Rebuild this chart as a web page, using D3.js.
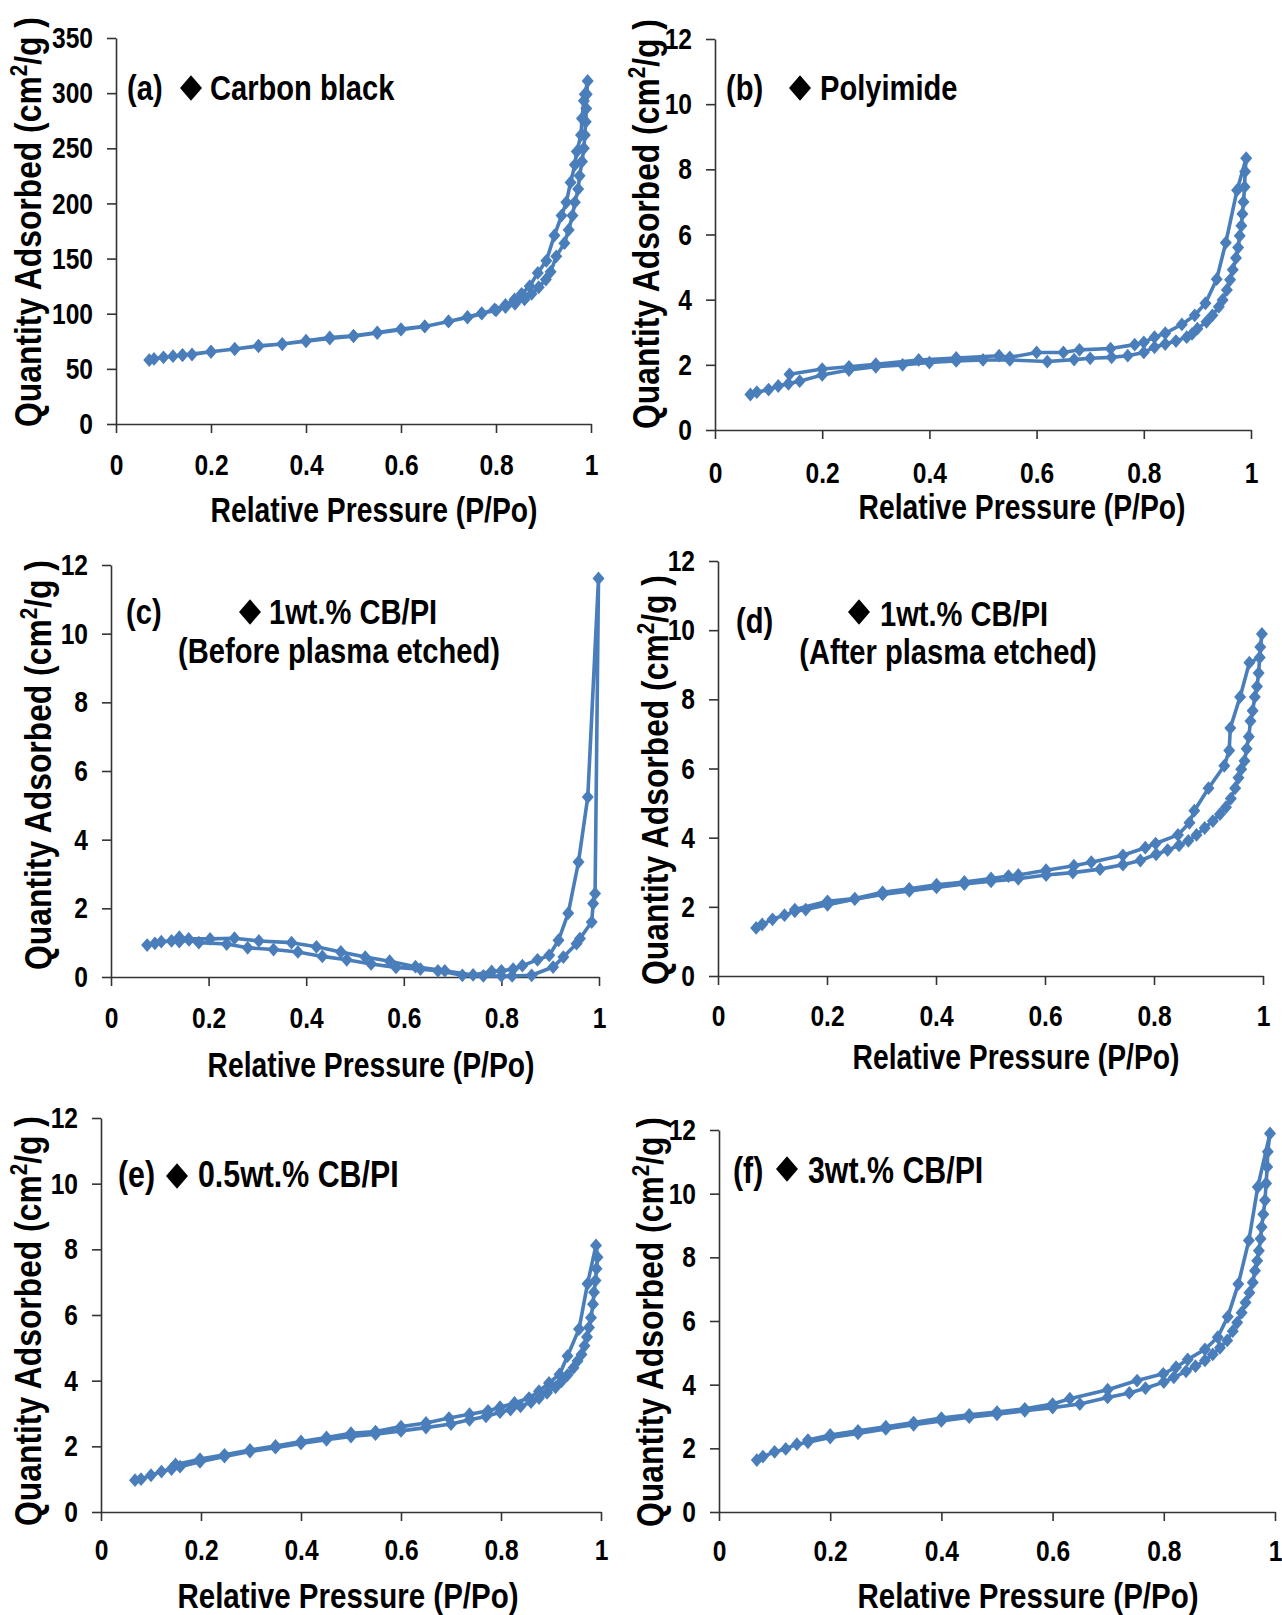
<!DOCTYPE html>
<html>
<head>
<meta charset="utf-8">
<script src="https://cdn.jsdelivr.net/npm/d3@7"></script>
<style>
body{margin:0;background:#fff}
text{font-family:"Liberation Sans",Arial,sans-serif;font-weight:bold;fill:#000}
</style>
</head>
<body>
<div id="chart"></div>
<script>
// isotherm data: [P/Po, quantity adsorbed]
var carbonAds=[[0.07,58],[0.08,59],[0.10,60.5],[0.12,61.5],[0.14,62.5],[0.16,63],[0.20,65.5],[0.25,68],[0.30,71],[0.35,72.5],[0.40,75.5],[0.45,78.5],[0.50,80],[0.55,83],[0.60,86],[0.65,88.5],[0.70,93],[0.74,97],[0.77,100.5],[0.80,103],[0.82,106],[0.84,109],[0.86,113],[0.875,118],[0.89,124],[0.905,131],[0.915,138],[0.927,152],[0.944,164],[0.953,176],[0.961,189],[0.966,201],[0.973,213],[0.976,225],[0.981,238],[0.985,250],[0.987,262],[0.989,274],[0.99,286],[0.991,299],[0.993,311]]
var carbonDes=[[0.987,299],[0.985,293],[0.981,277],[0.979,262],[0.97,247],[0.966,235],[0.957,219],[0.948,201],[0.938,189],[0.923,171],[0.906,148],[0.888,137],[0.871,125],[0.854,118],[0.839,113],[0.82,108],[0.797,104],[0.77,100],[0.74,96.5],[0.70,93],[0.65,88.5],[0.60,85.5],[0.55,82.5],[0.50,79.5],[0.45,77.5],[0.40,75],[0.35,72.5],[0.30,70.5],[0.25,68],[0.20,65.5],[0.14,62.5]]

var polyAds=[[0.066,1.09],[0.078,1.16],[0.10,1.24],[0.118,1.35],[0.137,1.42],[0.158,1.50],[0.20,1.69],[0.25,1.84],[0.30,1.94],[0.35,2.0],[0.40,2.07],[0.45,2.12],[0.50,2.15],[0.55,2.15],[0.62,2.10],[0.67,2.16],[0.70,2.2],[0.74,2.23],[0.77,2.28],[0.80,2.38],[0.82,2.54],[0.84,2.64],[0.86,2.73],[0.88,2.85],[0.89,2.95],[0.90,3.11],[0.917,3.32],[0.928,3.52],[0.94,3.78],[0.947,3.99],[0.955,4.3],[0.961,4.61],[0.966,4.92],[0.972,5.28],[0.976,5.6],[0.979,5.96],[0.982,6.27],[0.984,6.63],[0.986,7.0],[0.988,7.46],[0.989,7.93],[0.991,8.34]]
var polyDes=[[0.974,7.36],[0.953,5.75],[0.936,4.63],[0.915,3.89],[0.895,3.52],[0.871,3.24],[0.84,2.97],[0.82,2.85],[0.80,2.69],[0.783,2.62],[0.738,2.5],[0.68,2.46],[0.65,2.38],[0.60,2.38],[0.55,2.23],[0.53,2.28],[0.45,2.21],[0.38,2.15],[0.30,2.02],[0.25,1.94],[0.20,1.87],[0.139,1.71]]

var beforeAds=[[0.074,0.93],[0.09,0.98],[0.103,1.03],[0.124,1.05],[0.14,1.03],[0.16,1.08],[0.18,1.0],[0.237,0.96],[0.28,0.85],[0.333,0.8],[0.383,0.73],[0.433,0.6],[0.483,0.5],[0.533,0.38],[0.584,0.28],[0.634,0.23],[0.67,0.18],[0.72,0.05],[0.763,0.03],[0.80,0.03],[0.822,0.03],[0.862,0.05],[0.906,0.29],[0.927,0.58],[0.954,0.97],[0.961,1.12],[0.985,1.6],[0.988,2.14],[0.992,2.43],[0.999,11.61]]
var beforeDes=[[0.977,5.24],[0.958,3.35],[0.937,1.86],[0.917,1.07],[0.898,0.63],[0.874,0.5],[0.843,0.33],[0.824,0.23],[0.80,0.18],[0.78,0.16],[0.742,0.06],[0.684,0.18],[0.624,0.30],[0.571,0.46],[0.521,0.58],[0.471,0.73],[0.421,0.88],[0.37,1.0],[0.303,1.05],[0.253,1.13],[0.203,1.11],[0.159,1.11],[0.14,1.16]]

var afterAds=[[0.07,1.39],[0.081,1.49],[0.10,1.64],[0.122,1.76],[0.141,1.87],[0.161,1.92],[0.201,2.06],[0.251,2.22],[0.302,2.36],[0.351,2.46],[0.401,2.56],[0.452,2.66],[0.501,2.74],[0.551,2.81],[0.602,2.92],[0.651,2.99],[0.701,3.09],[0.743,3.22],[0.775,3.34],[0.804,3.52],[0.825,3.64],[0.846,3.78],[0.863,3.91],[0.878,4.08],[0.893,4.28],[0.908,4.48],[0.921,4.68],[0.932,4.88],[0.941,5.13],[0.949,5.43],[0.955,5.73],[0.96,5.98],[0.966,6.22],[0.97,6.57],[0.974,6.92],[0.977,7.37],[0.981,7.67],[0.985,8.07],[0.989,8.37],[0.992,8.76],[0.995,9.51],[0.998,9.89]]
var afterDes=[[0.994,9.21],[0.975,9.06],[0.958,8.07],[0.94,7.17],[0.938,6.52],[0.929,6.08],[0.90,5.43],[0.874,4.78],[0.865,4.43],[0.844,4.08],[0.803,3.83],[0.784,3.71],[0.743,3.49],[0.685,3.29],[0.653,3.19],[0.602,3.06],[0.551,2.92],[0.533,2.89],[0.501,2.82],[0.452,2.72],[0.401,2.64],[0.351,2.52],[0.302,2.42],[0.251,2.24],[0.201,2.16],[0.141,1.92]]

var halfAds=[[0.068,0.97],[0.08,1.0],[0.10,1.12],[0.121,1.23],[0.141,1.31],[0.158,1.38],[0.198,1.53],[0.247,1.69],[0.298,1.84],[0.349,1.96],[0.40,2.09],[0.451,2.2],[0.50,2.3],[0.549,2.37],[0.60,2.47],[0.65,2.57],[0.70,2.68],[0.737,2.81],[0.77,2.91],[0.798,3.04],[0.819,3.12],[0.839,3.22],[0.86,3.35],[0.876,3.47],[0.892,3.63],[0.909,3.8],[0.921,3.98],[0.933,4.17],[0.945,4.39],[0.953,4.6],[0.961,4.8],[0.967,5.06],[0.972,5.33],[0.976,5.62],[0.98,5.92],[0.984,6.33],[0.986,6.69],[0.989,7.05],[0.991,7.41],[0.993,7.76],[0.99,8.12]]
var halfDes=[[0.973,6.95],[0.956,5.57],[0.933,4.75],[0.917,4.19],[0.896,3.93],[0.876,3.68],[0.856,3.47],[0.827,3.32],[0.798,3.19],[0.774,3.08],[0.737,2.98],[0.696,2.86],[0.65,2.71],[0.60,2.6],[0.549,2.45],[0.50,2.4],[0.451,2.27],[0.40,2.15],[0.349,2.01],[0.298,1.89],[0.247,1.74],[0.198,1.61],[0.149,1.45]]

var threeAds=[[0.068,1.63],[0.079,1.74],[0.10,1.89],[0.12,1.98],[0.14,2.13],[0.16,2.19],[0.20,2.34],[0.25,2.47],[0.30,2.61],[0.35,2.74],[0.40,2.86],[0.45,2.98],[0.50,3.07],[0.55,3.18],[0.60,3.28],[0.649,3.39],[0.699,3.6],[0.738,3.74],[0.767,3.89],[0.80,4.08],[0.818,4.23],[0.84,4.42],[0.857,4.58],[0.874,4.76],[0.888,4.95],[0.901,5.16],[0.914,5.39],[0.924,5.68],[0.932,5.95],[0.94,6.26],[0.947,6.58],[0.954,6.89],[0.96,7.21],[0.964,7.58],[0.968,7.89],[0.971,8.21],[0.974,8.58],[0.976,8.95],[0.979,9.35],[0.982,9.79],[0.984,10.32],[0.986,10.84],[0.987,11.32],[0.991,11.89]]
var threeDes=[[0.969,10.21],[0.953,8.53],[0.934,7.16],[0.915,6.13],[0.897,5.49],[0.874,5.11],[0.843,4.79],[0.822,4.55],[0.799,4.34],[0.752,4.13],[0.699,3.84],[0.631,3.56],[0.60,3.39],[0.55,3.24],[0.50,3.14],[0.45,3.05],[0.40,2.95],[0.35,2.81],[0.30,2.68],[0.25,2.55],[0.20,2.42],[0.16,2.26]]

var xTicks=[0,0.2,0.4,0.6,0.8,1]
var xTickLabels=["0","0.2","0.4","0.6","0.8","1"]
var yTicksCarbon=[0,50,100,150,200,250,300,350]
var yTicks12=[0,2,4,6,8,10,12]
var panelTags=["(a)","(b)","(c)","(d)","(e)","(f)"]
var sampleNames=["Carbon black","Polyimide","1wt.% CB/PI","1wt.% CB/PI","0.5wt.% CB/PI","3wt.% CB/PI"]
var sampleNotes=["","","(Before plasma etched)","(After plasma etched)","",""]

// where each panel sits on the page
var layout=[
    {ads:carbonAds,des:carbonDes,yTicks:yTicksCarbon,left:116,right:591,bottom:424,top:38,tag:[127,100],dia:[191,88],name:[210,100],note:null,fs:35.5,yt:[41,222],xt:[374,522],xfs:34.5,pad:21},
    {ads:polyAds,des:polyDes,yTicks:yTicks12,left:715,right:1251,bottom:430,top:39,tag:[726,100],dia:[800,88],name:[820,100],note:null,fs:35.5,yt:[659,224],xt:[1022,519],xfs:34.5,pad:23},
    {ads:beforeAds,des:beforeDes,yTicks:yTicks12,left:111,right:599,bottom:977,top:565,tag:[126,624],dia:[250,612],name:[269,624],note:[339,663],fs:35.5,yt:[51,765],xt:[371,1077],xfs:34.5,pad:21},
    {ads:afterAds,des:afterDes,yTicks:yTicks12,left:718,right:1263,bottom:976,top:561,tag:[736,633],dia:[859,612],name:[880,626],note:[948,664],fs:35.5,yt:[668,780],xt:[1016,1069],xfs:34.5,pad:20},
    {ads:halfAds,des:halfDes,yTicks:yTicks12,left:101,right:601,bottom:1512,top:1118,tag:[118,1187],dia:[177,1176],name:[198,1187],note:null,fs:37,yt:[41,1321],xt:[348,1608],xfs:36,pad:18},
    {ads:threeAds,des:threeDes,yTicks:yTicks12,left:719,right:1275,bottom:1512,top:1130,tag:[733,1183],dia:[787,1169],name:[808,1183],note:null,fs:37,yt:[663,1322],xt:[1028,1608],xfs:36,pad:19}
]

var svgWidth=1282
var svgHeight=1615
var lineColor="#4a7ebb"
var sx=0.82   // squeeze text sideways, the figure uses a narrow bold face

// diamond a bit taller than wide
var diamond={
    draw:function(ctx,size){
        var w=Math.sqrt(size)/2, h=w*1.15
        ctx.moveTo(0,-h); ctx.lineTo(w,0); ctx.lineTo(0,h); ctx.lineTo(-w,0); ctx.closePath()
    }
}

var svg=d3.select("#chart")
    .append("svg")
    .attr("width",svgWidth)
    .attr("height",svgHeight)
svg.append("rect").attr("width",svgWidth).attr("height",svgHeight).attr("fill","#fff")

function label(g,x,y,str,size,anchor){
    return g.append("text")
        .attr("transform",`translate(${x},${y}) scale(${sx},1)`)
        .attr("text-anchor",anchor||"start")
        .attr("font-size",size+"px")
        .text(str)
}

layout.forEach(function(p,i){
    var g=svg.append("g")
    var yMax=p.yTicks[p.yTicks.length-1]
    var xScale=d3.scaleLinear().domain([0,1]).range([p.left,p.right])
    var yScale=d3.scaleLinear().domain([0,yMax]).range([p.bottom,p.top])

    var xAxis=g.append("g")
        .attr("transform",`translate(0,${p.bottom})`)
        .call(d3.axisBottom(xScale).tickValues(xTicks).tickFormat((d,k)=>xTickLabels[k]).tickSize(9).tickSizeOuter(0).tickPadding(p.pad))
    xAxis.selectAll(".tick text").attr("transform",`scale(${sx},1)`)
    var yAxis=g.append("g")
        .attr("transform",`translate(${p.left},0)`)
        .call(d3.axisLeft(yScale).tickValues(p.yTicks).tickSize(9).tickSizeOuter(0).tickPadding(14))
    yAxis.selectAll(".tick text").attr("x",-23/sx).attr("transform",`scale(${sx},1)`)
    g.selectAll(".domain,.tick line").attr("stroke","#333").attr("stroke-width",1.6)
    g.selectAll(".tick text").attr("font-size","30px").attr("fill","#000")

    var pts=p.ads.concat(p.des)
    var line=d3.line().x(d=>xScale(d[0])).y(d=>yScale(d[1]))
    g.append("path")
        .datum(pts)
        .attr("d",line)
        .attr("fill","none")
        .attr("stroke",lineColor)
        .attr("stroke-width",3.6)
        .attr("stroke-linejoin","round")
    g.selectAll(".pt")
        .data(pts)
        .enter()
        .append("path")
        .classed("pt",true)
        .attr("transform",d=>`translate(${xScale(d[0])},${yScale(d[1])})`)
        .attr("d",d3.symbol().type(diamond).size(144))
        .attr("fill",lineColor)

    // axis titles
    label(g,p.xt[0],p.xt[1],"Relative Pressure (P/Po)",p.xfs,"middle")
    var yt=g.append("text")
        .attr("transform",`translate(${p.yt[0]},${p.yt[1]}) rotate(-90) scale(0.86,1)`)
        .attr("text-anchor","middle")
        .attr("font-size","37px")
    yt.append("tspan").text("Quantity Adsorbed (cm")
    yt.append("tspan").attr("dy",-14).attr("font-size","24px").text("2")
    yt.append("tspan").attr("dy",14).text("/g )")

    // in-plot label
    label(g,p.tag[0],p.tag[1],panelTags[i],p.fs)
    g.append("path")
        .attr("transform",`translate(${p.dia[0]},${p.dia[1]})`)
        .attr("d",d3.symbol().type(diamond).size(484))
        .attr("fill","#000")
    label(g,p.name[0],p.name[1],sampleNames[i],p.fs)
    if(p.note){
        label(g,p.note[0],p.note[1],sampleNotes[i],p.fs,"middle")
    }
})
</script>
</body>
</html>
